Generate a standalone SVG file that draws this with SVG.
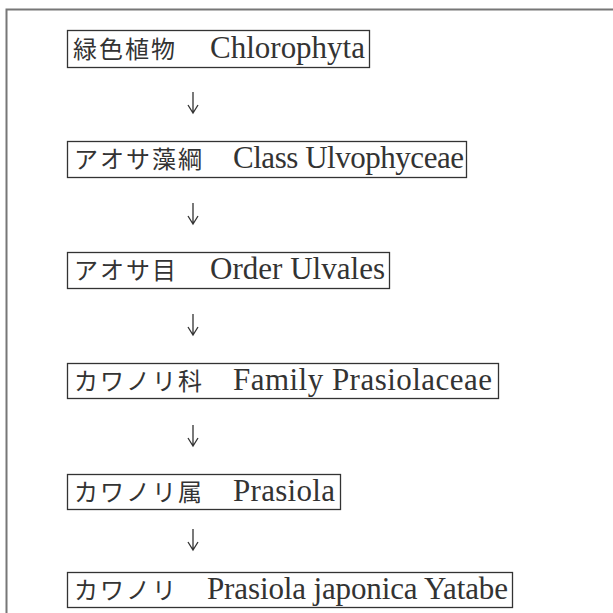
<svg xmlns="http://www.w3.org/2000/svg" width="613" height="613" viewBox="0 0 613 613">
<style>
.box{fill:#fff;stroke:#333;stroke-width:1.3}
.jp{font-size:24px;fill:#333}
.en{font-size:31px;fill:#333}
.arr{fill:none;stroke:#333;stroke-width:1.3}
</style>
<rect width="613" height="613" fill="#fff"/>
<path d="M6.5 613V9.5H613" fill="none" stroke="#777" stroke-width="2"/>
<g id="n1">
<rect class="box" x="67.5" y="30.5" width="302" height="37"/>
<text class="jp" font-family="'Noto Sans CJK JP', sans-serif" x="73 99 125 151" y="58">緑色植物</text>
<text class="en" font-family="'Liberation Serif', 'DejaVu Serif', serif" x="210" y="58" textLength="155" lengthAdjust="spacing">Chlorophyta</text>
</g>
<g id="n2">
<rect class="box" x="67.5" y="141.5" width="399" height="36"/>
<text class="jp" font-family="'Noto Sans CJK JP', sans-serif" x="74 100 126 152 178" y="168">アオサ藻綱</text>
<text class="en" font-family="'Liberation Serif', 'DejaVu Serif', serif" x="233" y="168" textLength="231" lengthAdjust="spacing">Class Ulvophyceae</text>
</g>
<g id="n3">
<rect class="box" x="67.5" y="252.5" width="322" height="36"/>
<text class="jp" font-family="'Noto Sans CJK JP', sans-serif" x="74 100 126 152" y="279">アオサ目</text>
<text class="en" font-family="'Liberation Serif', 'DejaVu Serif', serif" x="210" y="279" textLength="175" lengthAdjust="spacing">Order Ulvales</text>
</g>
<g id="n4">
<rect class="box" x="67.5" y="363.5" width="431" height="35"/>
<text class="jp" font-family="'Noto Sans CJK JP', sans-serif" x="74 100 126 152 178" y="390">カワノリ科</text>
<text class="en" font-family="'Liberation Serif', 'DejaVu Serif', serif" x="233" y="390" textLength="259" lengthAdjust="spacing">Family Prasiolaceae</text>
</g>
<g id="n5">
<rect class="box" x="67.5" y="474.5" width="273" height="35"/>
<text class="jp" font-family="'Noto Sans CJK JP', sans-serif" x="74 100 126 152 178" y="501">カワノリ属</text>
<text class="en" font-family="'Liberation Serif', 'DejaVu Serif', serif" x="233" y="501" textLength="102" lengthAdjust="spacing">Prasiola</text>
</g>
<g id="n6">
<rect class="box" x="67.5" y="572.5" width="445" height="35"/>
<text class="jp" font-family="'Noto Sans CJK JP', sans-serif" x="74 100 126 152" y="599">カワノリ</text>
<text class="en" font-family="'Liberation Serif', 'DejaVu Serif', serif" x="207" y="599" textLength="301" lengthAdjust="spacing">Prasiola japonica Yatabe</text>
</g>
<g id="connectors">
<path class="arr" d="M193 92V113M188 105L193 113L198 105"/>
<path class="arr" d="M193 203V224M188 216L193 224L198 216"/>
<path class="arr" d="M193 314V335M188 327L193 335L198 327"/>
<path class="arr" d="M193 425V446M188 438L193 446L198 438"/>
<path class="arr" d="M193 529V550M188 542L193 550L198 542"/>
</g>
</svg>
